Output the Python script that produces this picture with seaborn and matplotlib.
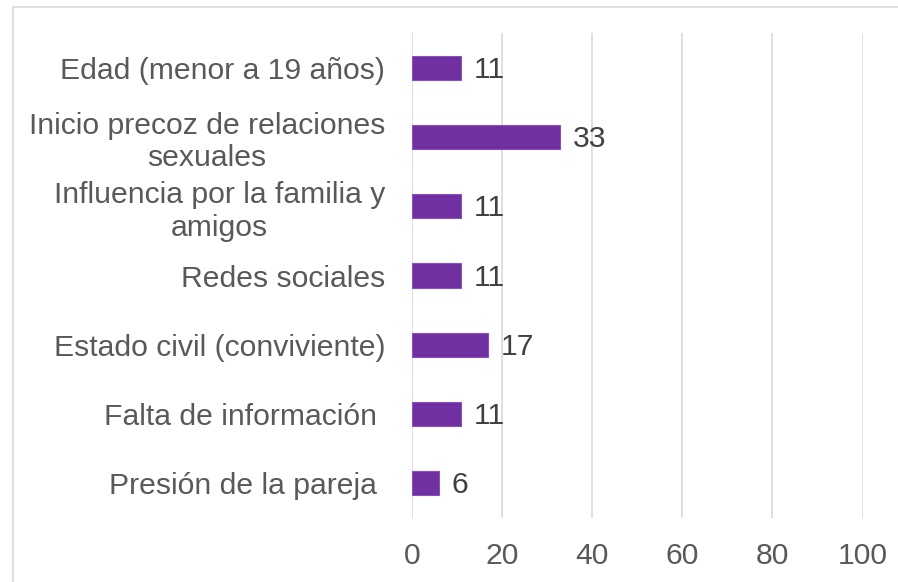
import matplotlib
matplotlib.use("Agg")
import matplotlib.pyplot as plt
from matplotlib.lines import Line2D
import seaborn as sns
import pandas as pd

# data
factores = [
    "Edad (menor a 19 años)",
    "Inicio precoz de relaciones\nsexuales",
    "Influencia por la familia y\namigos",
    "Redes sociales",
    "Estado civil (conviviente)",
    "Falta de información ",
    "Presión de la pareja ",
]
porcentaje = [11, 33, 11, 11, 17, 11, 6]
x_ticks = [0, 20, 40, 60, 80, 100]

df = pd.DataFrame({"factor": factores, "pct": porcentaje})

sns.set_theme(style="white")
plt.rcParams["font.family"] = ["Liberation Sans", "DejaVu Sans"]
fs = 21.7

fig = plt.figure(figsize=(8.98, 5.82), dpi=100)
ax = fig.add_axes([0.4585, 0.110, 0.502, 0.833])

sns.barplot(data=df, x="pct", y="factor", color="#7030A0", width=0.35,
            edgecolor="#8a4fbf", linewidth=0.8, saturation=1, ax=ax)

ax.set_xlim(0, 100)
ax.set_xticks(x_ticks)
ax.set_xlabel("")
ax.set_ylabel("")
ax.grid(axis="x", color="#d9d9d9", linewidth=1.2)
ax.set_axisbelow(True)
for s in ax.spines.values():
    s.set_visible(False)

ax.tick_params(axis="y", length=0, pad=19, labelsize=fs, labelcolor="#595959")
ax.tick_params(axis="x", length=0, pad=17, labelsize=fs, labelcolor="#595959")
for lab in ax.get_yticklabels():
    lab.set_multialignment("center")
    lab.set_linespacing(1.2)

for i, v in enumerate(porcentaje):
    ax.annotate(str(v), (v, i), xytext=(9, -1.5), textcoords="offset points",
                ha="left", va="center", fontsize=fs, color="#404040")

# light frame around the chart (top and left edges visible)
fig.add_artist(Line2D([13 / 898, 1.0], [1 - 7 / 582, 1 - 7 / 582],
                      transform=fig.transFigure, color="#d9d9d9", linewidth=1.2))
fig.add_artist(Line2D([13 / 898, 13 / 898], [0.0, 1 - 7 / 582],
                      transform=fig.transFigure, color="#d9d9d9", linewidth=1.2))

fig.savefig("out.png", dpi=100)
